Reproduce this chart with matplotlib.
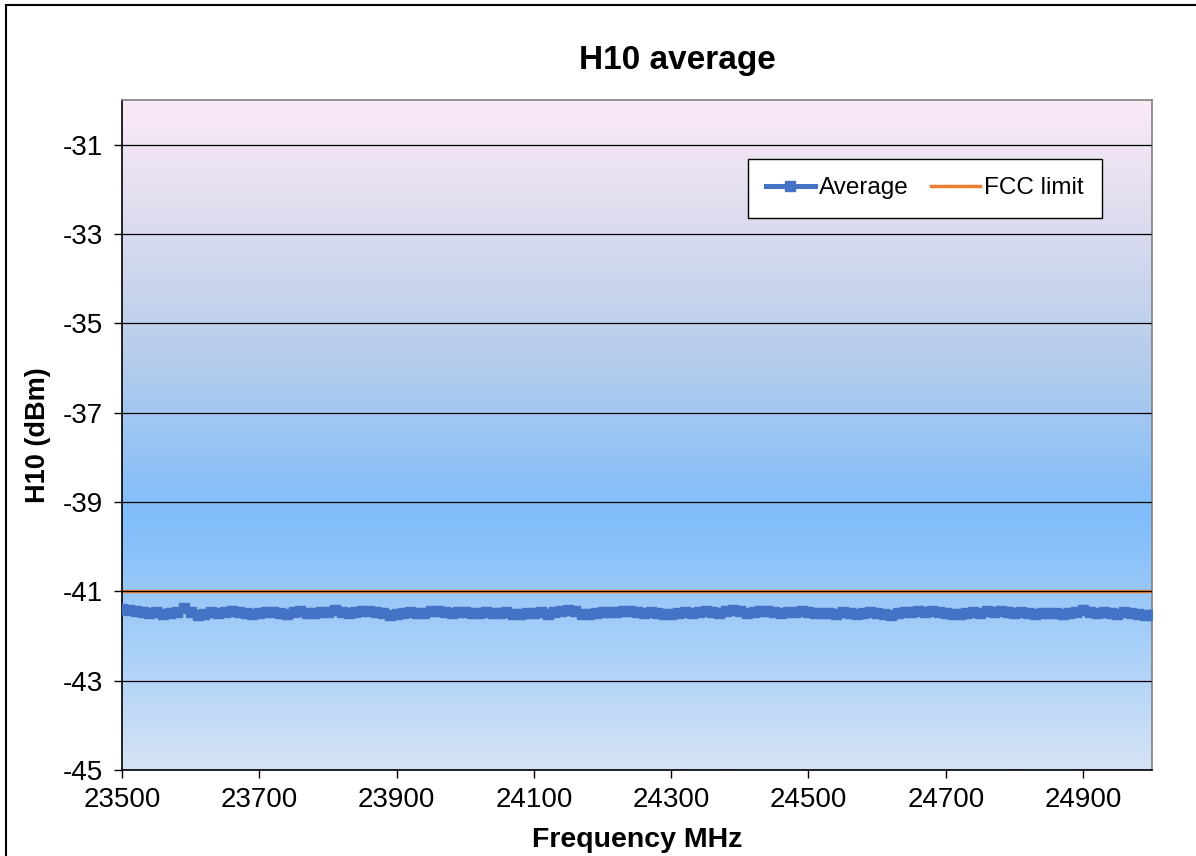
import numpy as np
import matplotlib.pyplot as plt
from matplotlib.colors import LinearSegmentedColormap
from matplotlib.patches import Rectangle

# frequency points, 10 MHz step
freq = list(range(23500, 25001, 10))
average = [
    -41.40, -41.42, -41.44, -41.46, -41.48, -41.47, -41.50, -41.49, -41.46, -41.38,
    -41.47, -41.52, -41.50, -41.47, -41.49, -41.46, -41.45, -41.47, -41.48, -41.50,
    -41.48, -41.47, -41.46, -41.49, -41.51, -41.47, -41.45, -41.48, -41.49, -41.47,
    -41.46, -41.42, -41.46, -41.48, -41.47, -41.44, -41.45, -41.47, -41.49, -41.52,
    -41.50, -41.48, -41.47, -41.49, -41.48, -41.45, -41.44, -41.47, -41.49, -41.46,
    -41.47, -41.48, -41.48, -41.47, -41.49, -41.48, -41.47, -41.50, -41.51, -41.49,
    -41.48, -41.46, -41.50, -41.47, -41.45, -41.41, -41.43, -41.50, -41.51, -41.48,
    -41.47, -41.46, -41.47, -41.44, -41.45, -41.47, -41.48, -41.46, -41.48, -41.50,
    -41.51, -41.48, -41.47, -41.49, -41.46, -41.44, -41.47, -41.48, -41.45, -41.42,
    -41.44, -41.48, -41.47, -41.45, -41.43, -41.47, -41.49, -41.46, -41.47, -41.45,
    -41.46, -41.48, -41.49, -41.48, -41.50, -41.47, -41.49, -41.51, -41.48, -41.46,
    -41.48, -41.51, -41.52, -41.49, -41.47, -41.46, -41.45, -41.47, -41.45, -41.46,
    -41.48, -41.50, -41.51, -41.49, -41.47, -41.48, -41.45, -41.47, -41.44, -41.46,
    -41.49, -41.47, -41.48, -41.50, -41.49, -41.48, -41.49, -41.50, -41.48, -41.47,
    -41.42, -41.46, -41.49, -41.46, -41.48, -41.50, -41.47, -41.49, -41.51, -41.53,
    -41.52,
]
fcc_limit = -41.0
xticks = list(range(23500, 24901, 200))
yticks = list(range(-45, -30, 2))

plt.rcParams['font.family'] = ['Liberation Sans', 'DejaVu Sans']
plt.rcParams['axes.unicode_minus'] = False

fig = plt.figure(figsize=(11.96, 8.56), dpi=100)
ax = fig.add_axes([0.102, 0.1005, 0.861, 0.7825])

# background gradient in the plot area
bg = LinearSegmentedColormap.from_list("bg", [
    (0.0, "#d6e3f5"),
    (0.18, "#a9d0f8"),
    (0.38, "#80bdfb"),
    (0.62, "#b6cdeb"),
    (0.85, "#e2def0"),
    (1.0, "#fbeaf7"),
])
grad = np.linspace(0, 1, 256).reshape(-1, 1)
ax.imshow(grad, cmap=bg, aspect="auto", origin="lower",
          extent=[23500, 25000, -45, -30], zorder=0)

ax.plot(freq, average, color="#4472c4", lw=3.6, marker="s", ms=7,
        mec="#4472c4", label="Average", zorder=3, solid_joinstyle="miter")
ax.plot([23500, 25000], [fcc_limit, fcc_limit], color="#ed7d31", lw=2.5,
        label="FCC limit", zorder=2)

ax.set_xlim(23500, 25000)
ax.set_ylim(-45, -30)
ax.set_xticks(xticks)
ax.set_yticks(yticks)
ax.yaxis.grid(True, color="black", lw=0.9)
ax.set_axisbelow(False)
ax.tick_params(direction="out", length=6, labelsize=20, width=1, pad=8)
ax.tick_params(axis="x", pad=6)

for s in ["left", "bottom"]:
    ax.spines[s].set_color("black")
    ax.spines[s].set_linewidth(1.2)
for s in ["top", "right"]:
    ax.spines[s].set_color("#808080")
    ax.spines[s].set_linewidth(1.2)

fig.text(677 / 1196, 1 - 60 / 856, "H10 average", fontsize=24,
         fontweight="bold", ha="center", va="center")
ax.set_xlabel("Frequency MHz", fontsize=20.5, fontweight="bold", labelpad=10)
ax.set_ylabel("H10 (dBm)", fontsize=19.5, fontweight="bold", labelpad=8)

leg = ax.legend(loc="upper right", bbox_to_anchor=(0.952, 0.912), ncol=2,
                fontsize=17.5, frameon=True, fancybox=False, handlelength=2.0,
                columnspacing=0.9, borderpad=0.75, handletextpad=0.2,
                borderaxespad=0)
leg.get_frame().set_edgecolor("black")
leg.get_frame().set_linewidth(1.0)
leg.get_frame().set_alpha(1)

# outer chart border
fig.patches.append(Rectangle((6 / 1196, -0.1), 1.2, 1.1 - 5 / 856,
                             transform=fig.transFigure, fill=False,
                             edgecolor="black", lw=1.5))

plt.savefig("out.png", dpi=100)
